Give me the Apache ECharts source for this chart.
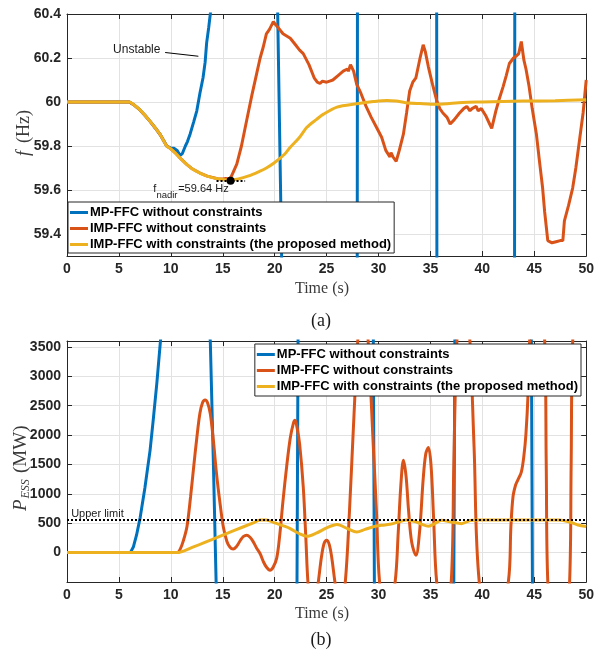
<!DOCTYPE html>
<html><head><meta charset="utf-8">
<script src="https://cdn.jsdelivr.net/npm/echarts@6/dist/echarts.min.js"></script>
<style>html,body{margin:0;padding:0;background:#fff}#c{width:597px;height:655px}</style>
</head><body><div id="c"></div>
<script>
// ---------- data ----------
const seriesNames = ['MP-FFC without constraints', 'IMP-FFC without constraints', 'IMP-FFC with constraints (the proposed method)'];
const seriesColors = ['#0072BD', '#D95319', '#EDB120'];
const timeRange = [0, 50];
const freqRange = [59.3, 60.4];
const freqTicks = [59.4, 59.6, 59.8, 60, 60.2, 60.4];
const powerRange = [-500, 3600];
const powerTicks = [0, 500, 1000, 1500, 2000, 2500, 3000, 3500];

// (a) frequency, [time s, f Hz]
const freqMP = [[0,60],[6,60],[6.5,59.985],[7,59.965],[7.5,59.94],[8,59.912],[8.5,59.882],[9,59.85],[9.6,59.80],[10.0,59.79],[10.3,59.79],[10.6,59.78],[10.9,59.757],[11.1,59.765],[11.4,59.80],[11.6,59.82],[11.86,59.855],[12.2,59.91],[12.5,59.96],[12.8,60.04],[13.1,60.11],[13.3,60.18],[13.45,60.27],[13.65,60.34],[13.8,60.40],[14.2,60.6],[17,62],[20.0,62],[20.29,60.4],[20.67,59.3],[21.0,57],[27.9,57],[27.95,59.3],[27.97,60.4],[28.1,63],[35.55,63],[35.6,60.4],[35.62,59.3],[35.8,57],[43.05,57],[43.1,59.3],[43.12,60.4],[43.3,63],[50,63]];
const freqIMP = [[0,60],[6,60],[6.5,59.985],[7,59.965],[7.5,59.94],[8,59.912],[8.5,59.882],[9,59.85],[9.6,59.80],[10,59.787],[10.5,59.765],[11,59.74],[11.5,59.718],[12,59.698],[12.8,59.677],[13.5,59.663],[14.5,59.651],[15.0,59.65],[15.3,59.652],[15.6,59.65],[15.8,59.66],[16.0,59.68],[16.35,59.718],[16.8,59.80],[17.3,59.916],[17.8,60.03],[18.27,60.13],[18.6,60.2],[18.9,60.25],[19.2,60.31],[19.5,60.33],[19.87,60.365],[20.3,60.34],[20.8,60.31],[21.5,60.29],[22.0,60.26],[22.4,60.236],[22.75,60.22],[23.3,60.17],[23.8,60.11],[24.1,60.09],[24.36,60.084],[24.6,60.095],[25.0,60.09],[25.3,60.095],[25.6,60.10],[26.1,60.12],[26.6,60.14],[27.0,60.15],[27.1,60.14],[27.3,60.17],[27.6,60.14],[27.9,60.08],[28.3,60.04],[28.8,59.98],[29.3,59.93],[29.8,59.885],[30.3,59.84],[30.7,59.78],[31.1,59.75],[31.2,59.77],[31.4,59.75],[31.7,59.73],[32.0,59.78],[32.4,59.855],[32.7,59.95],[33.0,60.05],[33.3,60.09],[33.6,60.11],[34.0,60.2],[34.3,60.26],[34.5,60.23],[34.8,60.16],[35.2,60.08],[35.6,60.007],[35.9,59.97],[36.2,59.95],[36.6,59.93],[36.9,59.90],[37.3,59.92],[37.8,59.95],[38.2,59.97],[38.5,59.98],[38.8,59.96],[39.0,59.97],[39.4,59.98],[39.6,59.96],[39.9,59.97],[40.3,59.94],[40.7,59.90],[40.9,59.88],[41.1,59.92],[41.3,59.96],[41.6,60.01],[42.0,60.07],[42.3,60.12],[42.6,60.175],[43.0,60.20],[43.3,60.21],[43.5,60.22],[43.75,60.275],[44.0,60.19],[44.2,60.15],[44.5,60.07],[44.8,59.97],[45.2,59.855],[45.5,59.73],[45.8,59.61],[46.0,59.5],[46.3,59.37],[46.7,59.36],[47.1,59.365],[47.5,59.37],[47.75,59.37],[47.9,59.46],[48.3,59.53],[48.7,59.61],[49.0,59.7],[49.35,59.825],[49.7,59.95],[50,60.10]];
const freqProposed = [[0,60],[6,60],[6.5,59.985],[7,59.965],[7.5,59.94],[8,59.912],[8.5,59.882],[9,59.85],[9.6,59.80],[10,59.787],[10.5,59.765],[11,59.74],[11.5,59.718],[12,59.698],[12.8,59.677],[13.5,59.663],[14.5,59.651],[15.6,59.645],[16.5,59.65],[17.5,59.664],[18.5,59.684],[19.2,59.70],[20,59.725],[21,59.765],[21.5,59.794],[22.4,59.84],[23.1,59.885],[24,59.92],[24.7,59.945],[26,59.977],[27.9,59.992],[29.5,60.002],[30.8,60.007],[31.7,60.005],[32.6,59.997],[34,59.993],[35.6,59.99],[38.1,59.998],[40,60.0],[43.9,60.004],[47,60.006],[50,60.01]];

// (b) ESS power, [time s, P MW]
const powerMP = [[0,0],[6.1,0],[6.4,100],[6.7,300],[7.05,600],[7.5,1100],[8.0,1740],[8.3,2250],[8.65,2880],[9.0,3600],[9.5,4600],[11.5,6000],[13.3,4600],[13.8,3600],[14.1,1500],[14.36,-500],[14.8,-3000],[18,-9000],[22.0,-9000],[22.15,-500],[22.25,3600],[22.4,9000],[29.4,9000],[29.5,3600],[29.6,-500],[29.75,-9000],[37.1,-9000],[37.25,-500],[37.35,3600],[37.5,9000],[44.6,9000],[44.72,3600],[44.82,-500],[44.95,-9000],[50,-9000]];
const powerIMP = [[0,0],[10.6,0],[10.9,60],[11.2,200],[11.55,440],[11.9,950],[12.2,1460],[12.5,1950],[12.8,2370],[13.05,2550],[13.3,2595],[13.55,2540],[13.8,2360],[14.1,1900],[14.4,1340],[14.75,820],[15.05,440],[15.4,190],[15.7,90],[16.0,60],[16.35,110],[16.7,210],[17.0,275],[17.3,295],[17.6,265],[17.9,195],[18.25,80],[18.6,-20],[18.9,-150],[19.2,-245],[19.55,-300],[19.85,-250],[20.2,-90],[20.5,320],[20.8,880],[21.15,1460],[21.5,1950],[21.8,2200],[21.96,2250],[22.15,2130],[22.4,1850],[22.75,1120],[23.0,250],[23.2,-500],[23.45,-900],[23.7,-950],[23.95,-800],[24.2,-500],[24.5,-80],[24.75,150],[25.0,210],[25.25,140],[25.5,-90],[25.8,-500],[26.3,-1100],[26.8,-500],[27.2,700],[27.6,2200],[28.0,3600],[28.5,4700],[29.0,3600],[29.5,1800],[29.8,700],[30.1,-500],[30.8,-1300],[31.6,-500],[31.9,350],[32.15,1150],[32.4,1570],[32.65,1300],[32.9,700],[33.2,170],[33.6,-45],[33.95,350],[34.3,1250],[34.55,1680],[34.8,1790],[35.05,1500],[35.3,600],[35.6,-500],[36.3,-1300],[37.0,-500],[37.25,1500],[37.55,3600],[38.2,5000],[38.8,3600],[39.2,1800],[39.7,-500],[41.0,-1600],[42.5,-500],[42.75,450],[42.95,950],[43.2,1150],[43.4,1230],[43.75,1370],[44.0,1650],[44.2,2030],[44.4,2700],[44.55,3600],[45.3,5500],[46.0,3600],[46.15,1500],[46.3,-500],[47.3,-2000],[48.4,-500],[48.55,1500],[48.7,3600],[49.3,5000],[50,6000]];
const powerProposed = [[0,0],[10.6,0],[12,85],[14,225],[16,370],[18,510],[18.6,556],[19.2,556],[20,505],[21,445],[21.5,408],[22.4,320],[23.1,277],[24,330],[25,420],[26,478],[27,410],[27.9,351],[28.7,395],[29.5,440],[30.3,465],[31.1,482],[31.9,520],[32.7,556],[33.65,521],[34.2,480],[34.8,450],[35.4,490],[36.05,550],[37,520],[38,493],[38.8,545],[39.6,556],[47.4,556],[48.4,521],[49.2,470],[50,445]];
const upperLimit = 565;

// annotations (data coordinates)
const nadirPoint = [15.75, 59.642];
const nadirSpan = [14.4, 17.15];
const unstableArrow = [[9.45, 60.225], [12.65, 60.208]];
const unstableTextAt = [6.72, 60.236];
const nadirTextAt = [8.3, 59.605];
const limitTextAt = [0.4, 660];

// ---------- chart ----------
const ink = '#262626';
const sans = 'Liberation Sans, Arial';
const serif = 'Liberation Serif, Times New Roman, serif';
const chart = echarts.init(document.getElementById('c'), null, {renderer: 'canvas'});

function xAx(grid, top) {
  return {
    gridIndex: grid, type: 'value', min: timeRange[0], max: timeRange[1], interval: 5,
    position: top ? 'top' : 'bottom',
    axisLine: {onZero: false, lineStyle: {color: ink, width: 1}},
    axisTick: {inside: true, length: 5, lineStyle: {color: ink}},
    axisLabel: {show: !top, color: ink, fontSize: 14, fontWeight: 'bold', fontFamily: sans, margin: 6, formatter: v => String(v)},
    splitLine: {show: !top, lineStyle: {color: '#e2e2e2', width: 1}}
  };
}
function yAx(grid, right, range, ticks) {
  return {
    gridIndex: grid, type: 'value', min: range[0], max: range[1],
    position: right ? 'right' : 'left',
    axisLine: {onZero: false, lineStyle: {color: ink, width: 1}},
    axisTick: {inside: true, length: 5, lineStyle: {color: ink}, customValues: ticks},
    axisLabel: {show: !right, color: ink, fontSize: 14, fontWeight: 'bold', fontFamily: sans, margin: 6, customValues: ticks, formatter: v => String(v)},
    splitLine: {show: !right, lineStyle: {color: '#e2e2e2', width: 1}}
  };
}
function legendFor(pos) {
  return Object.assign({
    orient: 'vertical', data: seriesNames, icon: 'rect', itemWidth: 18, itemHeight: 3, itemGap: 3,
    borderColor: ink, borderWidth: 1, backgroundColor: '#fff', borderRadius: 0,
    textStyle: {fontSize: 13, fontWeight: 'bold', color: '#000', fontFamily: sans, lineHeight: 13, padding: [0,0,0,-3]},
    selectedMode: false
  }, pos);
}
function line(i, name, data, xi, yi, smooth, extra) {
  return Object.assign({
    type: 'line', name: name, data: data, xAxisIndex: xi, yAxisIndex: yi, smooth: smooth,
    showSymbol: false, symbol: 'none', clip: true, silent: true,
    lineStyle: {color: seriesColors[i], width: 3}, itemStyle: {color: seriesColors[i]}, z: 2 + i
  }, extra || {});
}

const option = {
  animation: false,
  backgroundColor: '#fff',
  grid: [
    {left: 67, top: 14, width: 520, height: 242, show: false},
    {left: 67, top: 341, width: 520, height: 241, show: false}
  ],
  xAxis: [xAx(0, false), xAx(0, true), xAx(1, false), xAx(1, true)],
  yAxis: [yAx(0, false, freqRange, freqTicks), yAx(0, true, freqRange, freqTicks), yAx(1, false, powerRange, powerTicks), yAx(1, true, powerRange, powerTicks)],
  legend: [
    legendFor({left: 68, top: 202, padding: [4, 3, 2, 2]}),
    legendFor({right: 16, top: 344, padding: [4, 3, 3, 2]})
  ],
  series: [
    line(0, seriesNames[0], freqMP, 0, 0, false, {
      markLine: {silent: true, symbol: ['none', 'arrow'], symbolSize: [0, 7], label: {show: false},
        lineStyle: {color: '#000', width: 1, type: 'solid'},
        data: [[{coord: unstableArrow[0]}, {coord: unstableArrow[1]}]]}
    }),
    line(1, seriesNames[1], freqIMP, 0, 0, false),
    line(2, seriesNames[2], freqProposed, 0, 0, 0.3, {
      markLine: {silent: true, symbol: 'none', label: {show: false},
        lineStyle: {color: '#000', width: 2, type: [2, 2]},
        data: [[{coord: [nadirSpan[0], nadirPoint[1]]}, {coord: [nadirSpan[1], nadirPoint[1]]}]]},
      markPoint: {silent: true, symbol: 'circle', symbolSize: 8, itemStyle: {color: '#000'}, label: {show: false},
        data: [{coord: nadirPoint}]}
    }),
    line(0, seriesNames[0], powerMP, 2, 2, false),
    line(1, seriesNames[1], powerIMP, 2, 2, 0.35),
    line(2, seriesNames[2], powerProposed, 2, 2, 0.3, {
      markLine: {silent: true, symbol: 'none', label: {show: false},
        lineStyle: {color: '#000', width: 2, type: [2, 2]},
        data: [{yAxis: upperLimit}]}
    })
  ]
};
chart.setOption(option);

// text annotations placed from data coordinates
const pU = chart.convertToPixel({xAxisIndex: 0, yAxisIndex: 0}, unstableTextAt);
const pN = chart.convertToPixel({xAxisIndex: 0, yAxisIndex: 0}, nadirTextAt);
const pL = chart.convertToPixel({xAxisIndex: 2, yAxisIndex: 2}, limitTextAt);
const txt = (x, y, text, style) => ({type: 'text', x: x, y: y, silent: true,
  style: Object.assign({text: text, fontFamily: sans, fill: '#1a1a1a', align: 'left', verticalAlign: 'middle'}, style)});
const titleFill = '#3a3a3a';
chart.setOption({
  graphic: [
    txt(pU[0], pU[1], 'Unstable', {fontSize: 12, align: 'center'}),
    txt(pN[0], pN[1], 'f', {fontSize: 11}),
    txt(pN[0] + 3.2, pN[1] + 6.5, 'nadir', {fontSize: 9.5}),
    txt(pN[0] + 25, pN[1], '=59.64 Hz', {fontSize: 11}),
    txt(pL[0], pL[1], 'Upper limit', {fontSize: 11}),
    // axis titles
    {type: 'group', x: 24, y: 133, rotation: Math.PI / 2, silent: true, children: [
      {type: 'text', x: -23, y: 0, style: {text: 'f', fontSize: 18, fontStyle: 'italic', fontFamily: serif, fill: titleFill, verticalAlign: 'middle'}},
      {type: 'text', x: -10, y: 0, style: {text: '(Hz)', fontSize: 18, fontFamily: serif, fill: titleFill, verticalAlign: 'middle'}}
    ]},
    {type: 'group', x: 21, y: 465, rotation: Math.PI / 2, silent: true, children: [
      {type: 'text', x: -46, y: 0, style: {text: 'P', fontSize: 19, fontStyle: 'italic', fontFamily: serif, fill: titleFill, verticalAlign: 'middle'}},
      {type: 'text', x: -33.5, y: 5, style: {text: 'ESS', fontSize: 12, fontStyle: 'italic', fontFamily: serif, fill: titleFill, verticalAlign: 'middle'}},
      {type: 'text', x: -8, y: 0, style: {text: '(MW)', fontSize: 19, fontFamily: serif, fill: titleFill, verticalAlign: 'middle'}}
    ]},
    txt(322, 289, 'Time (s)', {fontSize: 16, fontFamily: serif, fill: titleFill, align: 'center'}),
    txt(322, 614, 'Time (s)', {fontSize: 16, fontFamily: serif, fill: titleFill, align: 'center'}),
    txt(321, 321, '(a)', {fontSize: 18, fontFamily: serif, align: 'center'}),
    txt(321, 640, '(b)', {fontSize: 18, fontFamily: serif, align: 'center'})
  ]
});
</script></body></html>
